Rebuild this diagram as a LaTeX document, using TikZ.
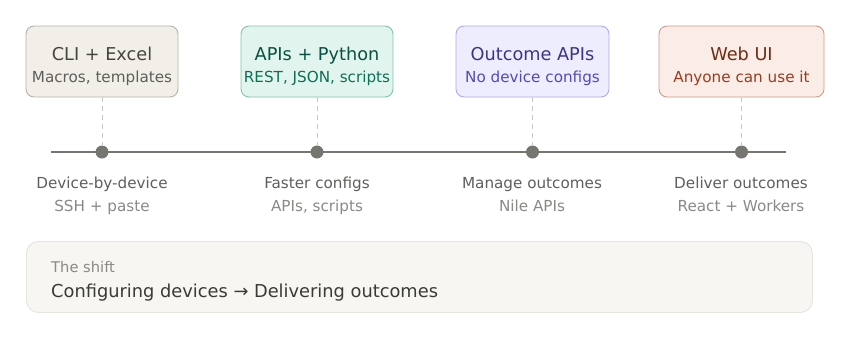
\documentclass[tikz,border=0pt]{standalone}
\usepackage{fontspec}
\setmainfont{DejaVu Sans}
\usepackage{xcolor}
\usetikzlibrary{arrows.meta,positioning,calc}
\definecolor{inkdark}{HTML}{3A3A37}
\definecolor{inkmid}{HTML}{5F5E5A}
\definecolor{inklight}{HTML}{8A8985}
\definecolor{axisgray}{HTML}{76756F}
% stage colours: fill / border / title / subtitle
\definecolor{cliFill}{HTML}{F1EFE8}\definecolor{cliDraw}{HTML}{B4B2A9}
\definecolor{cliHead}{HTML}{444441}\definecolor{cliSub}{HTML}{5F5E5A}
\definecolor{apiFill}{HTML}{E1F5EE}\definecolor{apiDraw}{HTML}{82C4A8}
\definecolor{apiHead}{HTML}{085041}\definecolor{apiSub}{HTML}{0F6E56}
\definecolor{outFill}{HTML}{EEEDFE}\definecolor{outDraw}{HTML}{AFA9EC}
\definecolor{outHead}{HTML}{3C3489}\definecolor{outSub}{HTML}{534AB7}
\definecolor{webFill}{HTML}{FAECE7}\definecolor{webDraw}{HTML}{D49A85}
\definecolor{webHead}{HTML}{712B13}\definecolor{webSub}{HTML}{993C1D}
\definecolor{shiftFill}{HTML}{F7F6F3}\definecolor{shiftDraw}{HTML}{E6E4DE}

\tikzset{
  stagebox/.style={draw=#1Draw,fill=#1Fill,line width=0.9pt,rounded corners=8pt,
    minimum height=71pt,inner sep=0pt},
  stagehead/.style={font=\fontsize{17.7}{20}\selectfont,text=#1Head,anchor=base,inner sep=0pt},
  stagesub/.style={font=\fontsize{15.2}{18}\selectfont,text=#1Sub,anchor=base,inner sep=0pt},
  stagedot/.style={circle,fill=axisgray,minimum size=13pt,inner sep=0pt},
  guide/.style={draw=black!22,line width=1pt,dash pattern=on 5pt off 4pt},
  milestone/.style={font=\fontsize{15.2}{18}\selectfont,text=inkmid,anchor=base,inner sep=0pt},
  milesub/.style={font=\fontsize{15.2}{18}\selectfont,text=inklight,anchor=base,inner sep=0pt},
}

\begin{document}
\begin{tikzpicture}[x=1pt,y=-1pt]
  \useasboundingbox (0,0) rectangle (850,338);
  % Timeline axis
  \coordinate (tl-start) at (51,152);
  \coordinate (tl-end) at (786,152);
  \draw[axisgray,line width=2pt] (tl-start) -- (tl-end);
  % Stages: index / centre x / box width / colour key / title / subtitle
  \foreach \i/\x/\w/\c/\head/\sub in {
      1/102/152/cli/{CLI + Excel}/{Macros, templates},
      2/317/152/api/{APIs + Python}/{REST, JSON, scripts},
      3/532.5/153/out/{Outcome APIs}/{No device configs},
      4/741.5/165/web/{Web UI}/{Anyone can use it}} {
    \node[stagebox=\c,minimum width=\w pt] (box\i) at (\x,61.5) {};
    \node[stagehead=\c] (head\i) at (\x,60) {\head};
    \node[stagesub=\c] (sub\i) at (\x,82) {\sub};
    \node[stagedot] (dot\i) at (\x,152) {};
    \draw[guide] (box\i.south) -- (dot\i.north);
  }
  % Milestone labels under the axis
  \foreach \i/\x/\what/\how in {
      1/102/Device-by-device/{SSH + paste},
      2/317/{Faster configs}/{APIs, scripts},
      3/532/{Manage outcomes}/{Nile APIs},
      4/741/{Deliver outcomes}/{React + Workers}} {
    \node[milestone] (mile\i) at (\x,188) {\what};
    \node[milesub] (how\i) at (\x,211) {\how};
  }
  % Summary panel
  \node[draw=shiftDraw,fill=shiftFill,line width=0.9pt,rounded corners=12pt,
    minimum width=786pt,minimum height=71pt,inner sep=0pt,anchor=north west]
    (shift) at (26,241) {};
  \node[font=\fontsize{14.7}{17}\selectfont,text=inklight,anchor=base west,inner sep=0pt]
    (shift-title) at (51,272) {The shift};
  \node[font=\fontsize{17.8}{20}\selectfont,text=inkdark,anchor=base west,inner sep=0pt]
    (shift-text) at (51,297) {Configuring devices → Delivering outcomes};
\end{tikzpicture}
\end{document}
